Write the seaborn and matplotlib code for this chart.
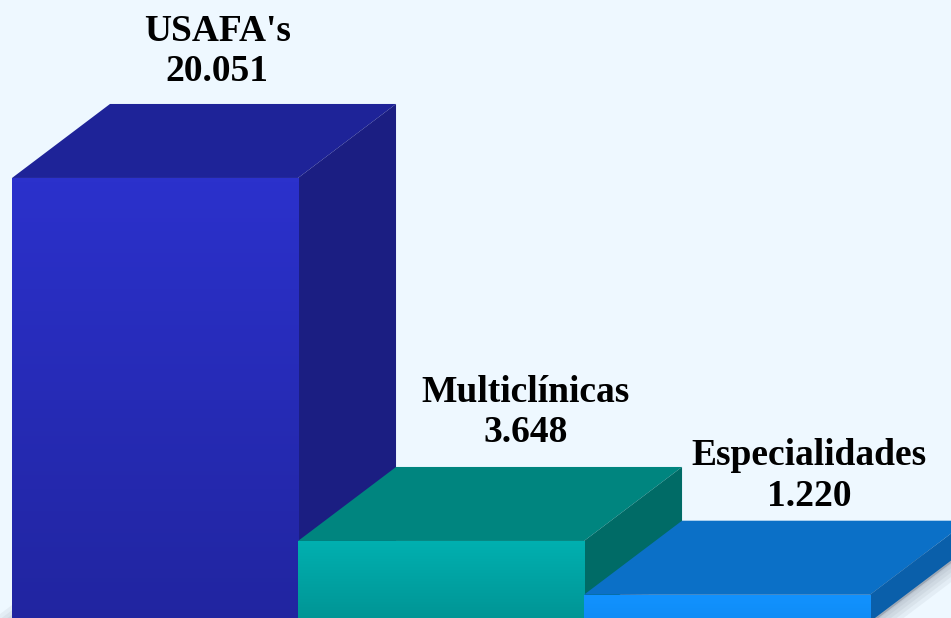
import numpy as np
import pandas as pd
import seaborn as sns
import matplotlib.pyplot as plt
from matplotlib.patches import Polygon
from matplotlib.colors import to_rgb

#  Datos del gráfico
categorias = ["USAFA's", "Multiclínicas", "Especialidades"]
valores = [20051, 3648, 1220]
etiquetas = ["20.051", "3.648", "1.220"]

#  Colores: frente (arriba, abajo), tapa, lateral
frente_sup = ['#2B31CC', '#00B0B0', '#1292FF']
frente_inf = ['#2125A0', '#009494', '#0F8CF5']
tapa = ['#1E2398', '#00857F', '#0B70C7']
lateral = ['#1B1E82', '#006B66', '#0A5FAA']
fondo = '#EEF8FF'

#  Ajuste fino de etiquetas (px)
ajuste_etq = [(-15, 23), (7, 25), (5, 15)]

sns.set_theme(style='white')
plt.rcParams['font.family'] = ['Liberation Serif', 'DejaVu Serif']

fig = plt.figure(figsize=(9.51, 6.18), dpi=100)
fig.patch.set_facecolor(fondo)
ax = fig.add_axes([0, 0, 1, 1])
ax.set_facecolor(fondo)

df = pd.DataFrame({'cat': categorias, 'val': valores})
sns.barplot(data=df, x='cat', y='val', hue='cat', palette=frente_sup,
            width=1.0, saturation=1, legend=False, edgecolor='none', ax=ax)

xlim = (-0.542, 2.783)
ylim = (167, 28093)
ax.set_xlim(*xlim)
ax.set_ylim(*ylim)
ax.axis('off')

#  Profundidad en píxeles -> unidades de datos
fig.canvas.draw()
def desplazar(x, y, dx=98, dy=74):
    p = ax.transData.transform((x, y))
    return ax.transData.inverted().transform(p + np.array([dx, dy]))

for i, bar in enumerate(ax.patches[:len(valores)]):
    x0 = bar.get_x()
    x1 = x0 + bar.get_width()
    y0 = bar.get_y()
    h = bar.get_height()
    z = 2 + 3 * i
    bar.set_zorder(z + 2)

    # degradado del frente
    grad = np.linspace(0, 1, 100).reshape(-1, 1, 1)
    c1 = np.array(to_rgb(frente_sup[i]))
    c2 = np.array(to_rgb(frente_inf[i]))
    img = c1 * (1 - grad) + c2 * grad
    im = ax.imshow(img, extent=[x0, x1, y0, h], origin='upper', aspect='auto',
                   zorder=z + 2.5)
    im.set_clip_path(bar)

    a = desplazar(x0, h)
    b = desplazar(x1, h)
    c = desplazar(x1, y0)
    d = desplazar(x0, y0)

    # sombra suave en el piso
    base = [(x0, y0), (x1, y0), tuple(c), tuple(d)]
    sombra = [tuple(desplazar(px, py, -6, -7)) for px, py in base]
    for lw in [22, 16, 11, 6, 2]:
        ax.add_patch(Polygon(sombra, closed=True, facecolor=(0.35, 0.38, 0.45, 0.07),
                             edgecolor=(0.35, 0.38, 0.45, 0.07), linewidth=lw,
                             joinstyle='round', zorder=1))

    ax.add_patch(Polygon([(x0, h), (x1, h), tuple(b), tuple(a)],
                         closed=True, facecolor=tapa[i], edgecolor='none', zorder=z))
    ax.add_patch(Polygon([(x1, y0), (x1, h), tuple(b), tuple(c)],
                         closed=True, facecolor=lateral[i], edgecolor='none', zorder=z + 1))

    ox, oy = ajuste_etq[i]
    ax.annotate(f"{categorias[i]}\n{etiquetas[i]}", xy=(x0 + 0.5 + 0.27, a[1]),
                xytext=(ox * 0.72, oy * 0.72), textcoords='offset points', ha='center',
                va='baseline', multialignment='center', fontsize=27,
                fontweight='bold', color='black', zorder=20, linespacing=1.2)

ax.set_xlim(*xlim)
ax.set_ylim(*ylim)

plt.savefig('out.png', dpi=100, facecolor=fondo)
